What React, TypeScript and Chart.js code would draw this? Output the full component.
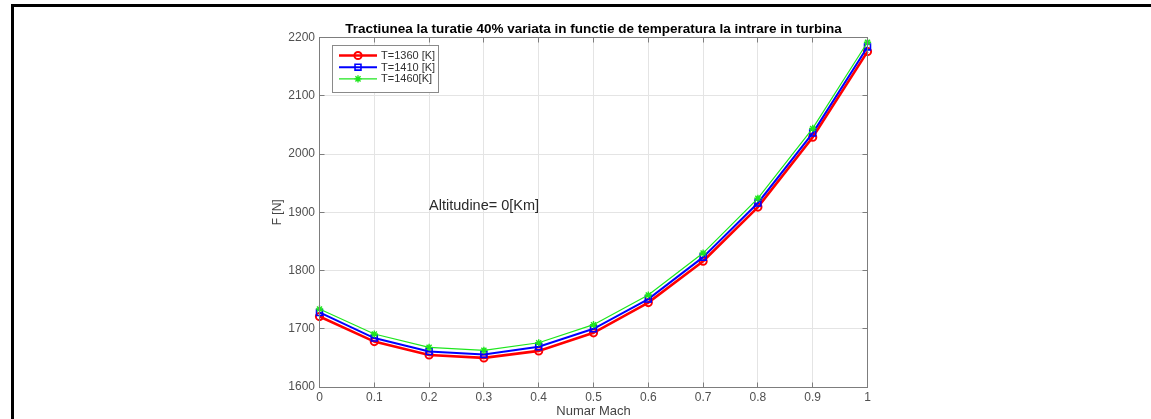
import React, { useEffect, useRef } from 'react';
import { Chart, registerables } from 'chart.js';

Chart.register(...registerables);

// ---- data ----
const machNumbers = [0, 0.1, 0.2, 0.3, 0.4, 0.5, 0.6, 0.7, 0.8, 0.9, 1];
const thrustT1360 = [1721, 1678, 1655, 1650, 1662, 1693, 1745, 1816, 1909, 2029, 2176];
const thrustT1410 = [1728, 1684, 1661, 1656, 1669, 1700, 1751, 1823, 1916, 2036, 2184];
const thrustT1460 = [1734, 1691, 1668, 1663, 1676, 1707, 1758, 1830, 1924, 2044, 2192];
const seriesNames = ['T=1360 [K]', 'T=1410 [K]', 'T=1460[K]'];

const xTickValues = [0, 0.1, 0.2, 0.3, 0.4, 0.5, 0.6, 0.7, 0.8, 0.9, 1];
const xTickLabels = ['0', '0.1', '0.2', '0.3', '0.4', '0.5', '0.6', '0.7', '0.8', '0.9', '1'];
const yTickValues = [1600, 1700, 1800, 1900, 2000, 2100, 2200];
const yTickLabels = ['1600', '1700', '1800', '1900', '2000', '2100', '2200'];

const chartTitle = 'Tractiunea la turatie 40% variata in functie de temperatura la intrare in turbina';
const xAxisTitle = 'Numar Mach';
const yAxisTitle = 'F [N]';
const annotationText = 'Altitudine= 0[Km]';
const annotationX = 0.2;
const annotationY = 1910;

// ---- styles ----
const FONT = '"Liberation Sans", Arial, Helvetica, sans-serif';
const seriesStyles = [
  { color: '#ff0000', width: 2.6, point: 'circle', radius: 3.6, pointWidth: 2 },
  { color: '#0000ff', width: 2, point: 'rect', radius: 4.2, pointWidth: 1.6 },
  { color: '#1ee61e', width: 1.2, point: 'star', radius: 3.6, pointWidth: 1.4 },
];
const AXIS_COLOR = '#7d7d7d';
const GRID_COLOR = '#e4e4e4';
const TICK_TEXT = '#505050';

function drawMarker(ctx: CanvasRenderingContext2D, style: string, x: number, y: number, r: number) {
  ctx.beginPath();
  if (style === 'circle') {
    ctx.arc(x, y, r, 0, Math.PI * 2);
  } else if (style === 'rect') {
    const s = r * Math.SQRT1_2;
    ctx.rect(x - s, y - s, 2 * s, 2 * s);
  } else if (style === 'star') {
    ctx.moveTo(x - r, y); ctx.lineTo(x + r, y);
    ctx.moveTo(x, y - r); ctx.lineTo(x, y + r);
    const d = r * Math.SQRT1_2;
    ctx.moveTo(x - d, y - d); ctx.lineTo(x + d, y + d);
    ctx.moveTo(x - d, y + d); ctx.lineTo(x + d, y - d);
  }
  ctx.stroke();
}

const matlabDecor = {
  id: 'matlabDecor',
  afterDraw(chart: any) {
    const { ctx, chartArea } = chart;
    const xs = chart.scales.x;
    const ys = chart.scales.y;
    const L = Math.floor(chartArea.left) + 0.5;
    const R = Math.floor(chartArea.right) + 0.5;
    const T = Math.floor(chartArea.top) + 0.5;
    const B = Math.floor(chartArea.bottom) + 0.5;
    ctx.save();
    // axes box
    ctx.strokeStyle = AXIS_COLOR;
    ctx.lineWidth = 1;
    ctx.strokeRect(L, T, R - L, B - T);
    // inward ticks
    const tl = 5;
    ctx.beginPath();
    xTickValues.forEach((v) => {
      const px = Math.floor(xs.getPixelForValue(v)) + 0.5;
      ctx.moveTo(px, B); ctx.lineTo(px, B - tl);
      ctx.moveTo(px, T); ctx.lineTo(px, T + tl);
    });
    yTickValues.forEach((v) => {
      const py = Math.floor(ys.getPixelForValue(v)) + 0.5;
      ctx.moveTo(L, py); ctx.lineTo(L + tl, py);
      ctx.moveTo(R, py); ctx.lineTo(R - tl, py);
    });
    ctx.stroke();

    // annotation text
    ctx.fillStyle = '#2a2a2a';
    ctx.font = `14.5px ${FONT}`;
    ctx.textAlign = 'left';
    ctx.textBaseline = 'middle';
    ctx.fillText(annotationText, xs.getPixelForValue(annotationX), ys.getPixelForValue(annotationY));

    // legend box
    const lx = Math.floor(chartArea.left + 13) + 0.5;
    const ly = Math.floor(chartArea.top + 7.5) + 0.5;
    const lw = 106;
    const lh = 47;
    ctx.fillStyle = '#ffffff';
    ctx.fillRect(lx, ly, lw, lh);
    ctx.strokeStyle = '#8a8a8a';
    ctx.lineWidth = 1;
    ctx.strokeRect(lx, ly, lw, lh);
    ctx.font = `11px ${FONT}`;
    ctx.textAlign = 'left';
    ctx.textBaseline = 'middle';
    seriesNames.forEach((name, i) => {
      const st = seriesStyles[i];
      const ry = ly + 10 + i * 11.7;
      ctx.strokeStyle = st.color;
      ctx.lineWidth = st.width;
      ctx.beginPath();
      ctx.moveTo(lx + 6.5, ry);
      ctx.lineTo(lx + 44.5, ry);
      ctx.stroke();
      ctx.lineWidth = st.pointWidth;
      drawMarker(ctx, st.point, lx + 25.5, ry, st.radius);
      ctx.fillStyle = '#303030';
      ctx.fillText(name, lx + 48.5, ry + 0.5);
    });
    ctx.restore();
  },
};

export default function App() {
  const canvasRef = useRef<HTMLCanvasElement | null>(null);

  useEffect(() => {
    document.body.style.margin = '0';
    const canvas = canvasRef.current;
    if (!canvas) return;
    const seriesValues = [thrustT1360, thrustT1410, thrustT1460];
    const chart = new Chart(canvas, {
      type: 'line',
      data: {
        datasets: seriesValues.map((vals, i) => ({
          label: seriesNames[i],
          data: machNumbers.map((m, k) => ({ x: m, y: vals[k] })),
          borderColor: seriesStyles[i].color,
          borderWidth: seriesStyles[i].width,
          pointStyle: seriesStyles[i].point as any,
          pointRadius: seriesStyles[i].radius,
          pointBorderWidth: seriesStyles[i].pointWidth,
          pointBorderColor: seriesStyles[i].color,
          pointBackgroundColor: 'rgba(0,0,0,0)',
          fill: false,
          tension: 0,
          order: 3 - i,
          clip: false as any,
        })),
      },
      options: {
        animation: false,
        responsive: false,
        devicePixelRatio: 1,
        layout: { padding: { left: 259.5, right: 283.5, top: 0, bottom: 0 } },
        plugins: {
          legend: { display: false },
          tooltip: { enabled: false },
          title: {
            display: true,
            text: chartTitle,
            fullSize: false,
            color: '#000000',
            font: { family: FONT, size: 13.5, weight: 'bold' },
            padding: { top: 21.4, bottom: 0 },
          },
        },
        scales: {
          x: {
            type: 'linear',
            min: 0,
            max: 1,
            afterFit: (s: any) => { s.height = 32; },
            afterBuildTicks: (s: any) => { s.ticks = xTickValues.map((value) => ({ value })); },
            ticks: {
              callback: (_v: any, i: number) => xTickLabels[i],
              color: TICK_TEXT,
              font: { family: FONT, size: 12 },
              padding: 3.3,
              maxRotation: 0,
              autoSkip: false,
            },
            grid: { color: GRID_COLOR, drawTicks: false, lineWidth: 1 },
            border: { display: true, color: AXIS_COLOR },
            title: {
              display: true,
              text: xAxisTitle,
              color: '#444444',
              font: { family: FONT, size: 13 },
              padding: { top: 0, bottom: 0 },
            },
          },
          y: {
            type: 'linear',
            min: 1600,
            max: 2200,
            afterFit: (s: any) => { s.width = 60; },
            afterBuildTicks: (s: any) => { s.ticks = yTickValues.map((value) => ({ value })); },
            ticks: {
              callback: (_v: any, i: number) => yTickLabels[i],
              color: TICK_TEXT,
              font: { family: FONT, size: 12 },
              padding: 4.5,
            },
            grid: { color: GRID_COLOR, drawTicks: false, lineWidth: 1 },
            border: { display: true, color: AXIS_COLOR },
            title: {
              display: true,
              text: yAxisTitle,
              color: '#444444',
              font: { family: FONT, size: 12 },
              padding: { top: 11.3, bottom: 0 },
            },
          },
        },
      },
      plugins: [matlabDecor],
    });
    return () => chart.destroy();
  }, []);

  return (
    <div style={{ position: 'relative', width: 1151, height: 419, overflow: 'hidden', background: '#ffffff' }}>
      <div
        style={{
          position: 'absolute',
          left: 11,
          top: 4,
          width: 1200,
          height: 500,
          borderTop: '3px solid #000',
          borderLeft: '3px solid #000',
          boxSizing: 'border-box',
        }}
      />
      <canvas
        ref={canvasRef}
        width={1151}
        height={419}
        style={{ position: 'absolute', left: 0, top: 0, width: 1151, height: 419 }}
      />
    </div>
  );
}
